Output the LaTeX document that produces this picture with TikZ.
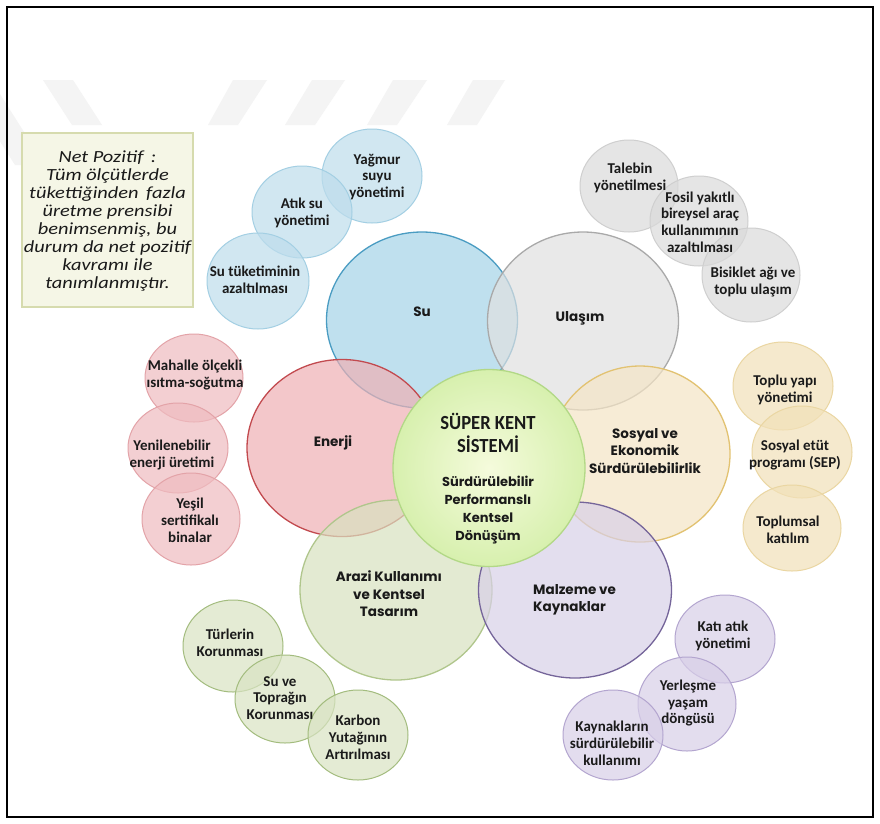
\documentclass[tikz,border=0pt]{standalone}
\usepackage{fontspec}
\setmainfont{Carlito}
\newfontfamily\popp{Poppins}
\newfontfamily\boxfont[FakeStretch=1.2]{Carlito}
\newfontfamily\titlefont[FakeStretch=0.93]{Carlito}
\usetikzlibrary{shapes.geometric}
\definecolor{wm}{HTML}{F4F4F4}
\definecolor{txt}{HTML}{1A1A1A}
% big bubbles
\definecolor{bF}{HTML}{A5D3E7}\definecolor{bD}{HTML}{4A9CC2}
\definecolor{gF}{HTML}{E0E0E0}\definecolor{gD}{HTML}{A9A9A9}
\definecolor{rF}{HTML}{EFB0B4}\definecolor{rD}{HTML}{C24A4F}
\definecolor{yF}{HTML}{F5E5C6}\definecolor{yD}{HTML}{E2C271}
\definecolor{nF}{HTML}{D8E2C0}\definecolor{nD}{HTML}{B0C68C}
\definecolor{pF}{HTML}{D8D0E8}\definecolor{pD}{HTML}{75659A}
% small bubbles
\definecolor{sbF}{HTML}{BEDDEC}\definecolor{sbD}{HTML}{A3CFE3}
\definecolor{sgF}{HTML}{DADADA}\definecolor{sgD}{HTML}{CFCFCF}
\definecolor{srF}{HTML}{EFBCC0}\definecolor{srD}{HTML}{E3A3A8}
\definecolor{syF}{HTML}{F2E1B9}\definecolor{syD}{HTML}{EAD6A2}
\definecolor{snF}{HTML}{D9E3C3}\definecolor{snD}{HTML}{A3BC7E}
\definecolor{spF}{HTML}{D8CFE8}\definecolor{spD}{HTML}{B3A5CF}
% centre
\definecolor{cIn}{HTML}{F5FBDC}\definecolor{cOut}{HTML}{D7F0AE}\definecolor{cD}{HTML}{B2D886}
\definecolor{boxF}{HTML}{F5F6E6}\definecolor{boxD}{HTML}{D6DBAE}
\begin{document}
\begin{tikzpicture}[x=1pt,y=-1pt,
  bubble/.style={ellipse,inner sep=0pt,fill opacity=0.7,draw opacity=1},
  bigb/.style={bubble,line width=1.3pt},
  smallb/.style={bubble,line width=1pt},
  biglbl/.style={text=txt,align=center,inner sep=0pt,font=\popp\bfseries\fontsize{13.5}{17.5}\selectfont},
  smalllbl/.style={text=txt,align=center,inner sep=0pt,font=\bfseries\fontsize{15}{16.8}\selectfont},
  wmark/.style={fill=wm,draw=none}]
\useasboundingbox (0,0) rectangle (880,823);
\fill[white] (0,0) rectangle (880,823);
% watermark
\fill[wmark] (-39,80) -- (-9,80) -- (45,165) -- (15,165) -- cycle;
\fill[wmark] (43,80) -- (73,80) -- (102,125) -- (72,125) -- cycle;
\fill[wmark] (233,80) -- (267,80) -- (238,125) -- (208,125) -- cycle;
\fill[wmark] (312,80) -- (345,80) -- (315,125) -- (285,125) -- cycle;
\fill[wmark] (393,80) -- (427,80) -- (397,125) -- (367,125) -- cycle;
\fill[wmark] (473,80) -- (505,80) -- (477,125) -- (447,125) -- cycle;
% frame
\draw[line width=2pt] (7,7) rectangle (873,817);
% note box
\node[draw=boxD,fill=boxF,line width=1.5pt,minimum width=171,minimum height=174,inner sep=0pt] (box) at (107.5,220) {};
\node[text=txt,align=center,inner sep=0pt,font=\boxfont\itshape\fontsize{17}{18}\selectfont] (boxtxt) at (107.5,221)
 {Net Pozitif \,:\\Tüm ölçütlerde\\tükettiğinden\, fazla\\üretme prensibi\\benimsenmiş, bu\\durum da net pozitif\\kavramı ile\\tanımlanmıştır.};
% small bubbles: blue
\node[smallb,fill=sbF,draw=sbD,minimum width=100,minimum height=94] (yag) at (372,176) {};
\node[smallb,fill=sbF,draw=sbD,minimum width=100,minimum height=92] (atik) at (302,212) {};
\node[smallb,fill=sbF,draw=sbD,minimum width=102,minimum height=96] (sut) at (258,281) {};
% gray
\node[smallb,fill=sgF,draw=sgD,minimum width=98,minimum height=92] (tal) at (629,186) {};
\node[smallb,fill=sgF,draw=sgD,minimum width=98,minimum height=90] (fos) at (699,221) {};
\node[smallb,fill=sgF,draw=sgD,minimum width=98,minimum height=94] (bis) at (751,275) {};
% red
\node[smallb,fill=srF,draw=srD,minimum width=98,minimum height=88] (mah) at (194,378) {};
\node[smallb,fill=srF,draw=srD,minimum width=100,minimum height=90] (yen) at (178,448) {};
\node[smallb,fill=srF,draw=srD,minimum width=98,minimum height=92] (yes) at (191,519) {};
% beige
\node[smallb,fill=syF,draw=syD,minimum width=100,minimum height=88] (tyap) at (783,386) {};
\node[smallb,fill=syF,draw=syD,minimum width=100,minimum height=92] (sep) at (802,452) {};
\node[smallb,fill=syF,draw=syD,minimum width=98,minimum height=86] (tkat) at (792,528) {};
% green
\node[smallb,fill=snF,draw=snD,minimum width=100,minimum height=92] (tur) at (233,646) {};
\node[smallb,fill=snF,draw=snD,minimum width=100,minimum height=88] (suve) at (285,699) {};
\node[smallb,fill=snF,draw=snD,minimum width=100,minimum height=90] (kar) at (358,735) {};
% purple
\node[smallb,fill=spF,draw=spD,minimum width=100,minimum height=88] (kati) at (725,639) {};
\node[smallb,fill=spF,draw=spD,minimum width=98,minimum height=94] (yer) at (687,704) {};
\node[smallb,fill=spF,draw=spD,minimum width=100,minimum height=90] (kay) at (613,735) {};
% big bubbles
\node[bigb,fill=bF,draw=bD,minimum width=191,minimum height=176] (su) at (422,320) {};
\node[bigb,fill=gF,draw=gD,minimum width=191,minimum height=178] (ul) at (583,321) {};
\node[bigb,fill=rF,draw=rD,minimum width=190,minimum height=177] (en) at (342,448) {};
\node[bigb,fill=yF,draw=yD,minimum width=180,minimum height=176] (so) at (640,454) {};
\node[bigb,fill=nF,draw=nD,minimum width=192,minimum height=180] (ar) at (396,590) {};
\node[bigb,fill=pF,draw=pD,minimum width=193,minimum height=176] (ma) at (575,590) {};
% centre
\node[ellipse,inner sep=0pt,minimum width=192,minimum height=197,draw=cD,line width=1.3pt,inner color=cIn,outer color=cOut] (ce) at (489,468) {};
% labels big
\node[biglbl] (lsu) at (422,312) {Su};
\node[biglbl] (lul) at (580,318) {Ulaşım};
\node[biglbl] (len) at (333,443) {Enerji};
\node[biglbl] (lso) at (645,451) {Sosyal ve\\Ekonomik\\Sürdürülebilirlik};
\node[biglbl] (lar) at (389,594) {Arazi Kullanımı\\ve Kentsel\\Tasarım};
\node[biglbl,align=left,anchor=west] (lma) at (533,600) {Malzeme ve\\Kaynaklar};
\node[text=txt,align=center,inner sep=0pt,font=\titlefont\bfseries\fontsize{20}{23.5}\selectfont] (lce1) at (488,433) {SÜPER KENT\\SİSTEMİ};
\node[biglbl,font=\popp\bfseries\fontsize{13}{18}\selectfont] (lce2) at (488,510) {Sürdürülebilir\\Performanslı\\Kentsel\\Dönüşüm};
% labels small
\node[smalllbl] (lyag) at (377,177) {Yağmur\\suyu\\yönetimi};
\node[smalllbl] (latik) at (302,213) {Atık su\\yönetimi};
\node[smalllbl] (lsut) at (255,280) {Su tüketiminin\\azaltılması};
\node[smalllbl] (ltal) at (630,178) {Talebin\\yönetilmesi};
\node[smalllbl] (lfos) at (700,222) {Fosil yakıtlı\\bireysel araç\\kullanımının\\azaltılması};
\node[smalllbl] (lbis) at (753,282) {Bisiklet ağı ve\\toplu ulaşım};
\node[smalllbl] (lmah) at (195,375) {Mahalle ölçekli\\ısıtma-soğutma};
\node[smalllbl] (lyen) at (172,455) {Yenilenebilir\\enerji üretimi};
\node[smalllbl] (lyes) at (190,520) {Yeşil\\sertifikalı\\binalar};
\node[smalllbl] (ltyap) at (785,390) {Toplu yapı\\yönetimi};
\node[smalllbl] (lsep) at (795,455) {Sosyal etüt\\programı (SEP)};
\node[smalllbl] (ltkat) at (788,530) {Toplumsal\\katılım};
\node[smalllbl] (ltur) at (230,643) {Türlerin\\Korunması};
\node[smalllbl] (lsuve) at (280,698) {Su ve\\Toprağın\\Korunması};
\node[smalllbl] (lkar) at (358,737) {Karbon\\Yutağının\\Artırılması};
\node[smalllbl] (lkati) at (723,636) {Katı atık\\yönetimi};
\node[smalllbl] (lyer) at (688,703) {Yerleşme\\yaşam\\döngüsü};
\node[smalllbl] (lkay) at (612,743) {Kaynakların\\sürdürülebilir\\kullanımı};
\end{tikzpicture}
\end{document}
